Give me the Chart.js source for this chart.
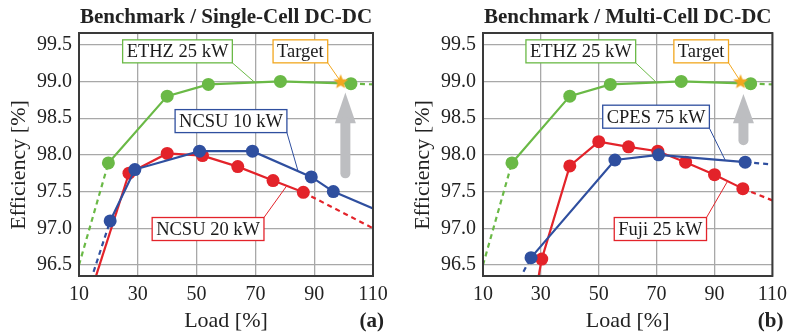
<!DOCTYPE html>
<html>
<head>
<meta charset="utf-8">
<script src="https://cdn.jsdelivr.net/npm/chart.js@4.4.1/dist/chart.umd.min.js"></script>
<style>
  html, body { margin: 0; padding: 0; background: #fff; }
  #wrap { position: relative; width: 794px; height: 335px; }
  canvas { position: absolute; top: 0; }
  #panelA { left: 0; }
  #panelB { left: 400px; }
</style>
</head>
<body>
<div id="wrap">
  <canvas id="panelA" width="400" height="335"></canvas>
  <canvas id="panelB" width="394" height="335"></canvas>
</div>
<script>
const loadTicks = [10, 30, 50, 70, 90, 110];
const effTicks = [96.5, 97.0, 97.5, 98.0, 98.5, 99.0, 99.5];

// ETHZ 25 kW (shown in both panels)
const ethzLoad = [20, 40, 54, 78.5, 102.5];
const ethzEff = [97.89, 98.8, 98.96, 99.0, 98.97];
const ethzExtLoad = [10, 110];
const ethzExtEff = [96.5, 98.96];

// NCSU 20 kW
const ncsu20Load = [27, 40, 52, 64, 76, 86.3];
const ncsu20Eff = [97.75, 98.02, 97.99, 97.84, 97.65, 97.49];
const ncsu20ExtLoad = [14.5, 110];
const ncsu20ExtEff = [96.19, 97.0];

// NCSU 10 kW
const ncsu10Load = [20.6, 29, 51, 69, 89, 96.5];
const ncsu10Eff = [97.1, 97.8, 98.05, 98.05, 97.7, 97.5];
const ncsu10ExtLoad = [14, 110];
const ncsu10ExtEff = [96.29, 97.27];

// Fuji 25 kW
const fujiLoad = [30.3, 40, 50, 60.3, 70.4, 80, 90, 99.8];
const fujiEff = [96.58, 97.85, 98.18, 98.11, 98.05, 97.9, 97.73, 97.54];
const fujiExtLoad = [29.1, 110];
const fujiExtEff = [96.32, 97.38];

// CPES 75 kW
const cpesLoad = [26.6, 55.6, 70.7, 100.6];
const cpesEff = [96.6, 97.93, 98.0, 97.9];
const cpesExtLoad = [22.5, 110];
const cpesExtEff = [96.3, 97.87];

// target operating point
const targetLoad = [99];
const targetEff = [99.0];

const GREEN = '#6ab946', RED = '#e3232a', BLUE = '#2f4f9f', ORANGE = '#f2a71f', GREY = '#bdbec1';
const SERIF = '"Liberation Serif", "Times New Roman", serif';

function pts(xs, ys) {
  return xs.map((x, i) => ({ x: x, y: ys[i] }));
}

// measured curve plus the two extrapolated ends
function seriesSets(name, xs, ys, extX, extY, color, lowDash, highDash, order) {
  const n = xs.length - 1;
  const ext = (a, b, dash) => ({
    label: name, data: [a, b], borderColor: color, borderWidth: 2.2,
    borderDash: dash ? [5, 4] : [], pointRadius: 0, order: order + 1
  });
  return [
    { label: name, data: pts(xs, ys), borderColor: color, backgroundColor: color,
      borderWidth: 2.2, pointRadius: 6.5, pointBorderWidth: 0, pointBackgroundColor: color,
      order: order },
    ext({ x: extX[0], y: extY[0] }, { x: xs[0], y: ys[0] }, lowDash),
    ext({ x: xs[n], y: ys[n] }, { x: extX[1], y: extY[1] }, highDash)
  ];
}

// filled five-point star for the target marker
const star = document.createElement('canvas');
star.width = 18; star.height = 18;
(function () {
  const c = star.getContext('2d');
  c.beginPath();
  for (let i = 0; i < 10; i++) {
    const r = i % 2 ? 3.4 : 7.8;
    const a = -Math.PI / 2 + i * Math.PI / 5;
    c.lineTo(9 + r * Math.cos(a), 9.5 + r * Math.sin(a));
  }
  c.closePath();
  c.fillStyle = ORANGE;
  c.fill();
})();

const targetSet = {
  label: 'Target', data: pts(targetLoad, targetEff), showLine: false,
  pointStyle: star, pointRadius: 8, order: 0
};

const decor = {
  id: 'decor',
  beforeDatasetsDraw(chart, args, o) {
    const xs = chart.scales.x, ys = chart.scales.y, ctx = chart.ctx;
    const a = o.arrow;
    const cx = xs.getPixelForValue(a.load);
    const tip = ys.getPixelForValue(a.tip), base = ys.getPixelForValue(a.head), end = ys.getPixelForValue(a.tail);
    ctx.save();
    ctx.fillStyle = GREY;
    ctx.beginPath();
    ctx.moveTo(cx, tip);
    ctx.lineTo(cx + 10.5, base);
    ctx.lineTo(cx - 10.5, base);
    ctx.closePath();
    ctx.fill();
    ctx.strokeStyle = GREY;
    ctx.lineWidth = 10;
    ctx.lineCap = 'round';
    ctx.beginPath();
    ctx.moveTo(cx, base - 1);
    ctx.lineTo(cx, end - 5);
    ctx.stroke();
    ctx.restore();
  },
  afterDatasetsDraw(chart, args, o) {
    const xs = chart.scales.x, ys = chart.scales.y, ctx = chart.ctx, area = chart.chartArea;
    ctx.save();
    ctx.strokeStyle = '#3a3a3a';
    ctx.lineWidth = 2;
    ctx.strokeRect(area.left, area.top, area.right - area.left, area.bottom - area.top);

    ctx.font = '18.5px ' + SERIF;
    ctx.textAlign = 'center';
    ctx.textBaseline = 'middle';
    o.labels.forEach(l => {
      const cx = xs.getPixelForValue(l.load), cy = ys.getPixelForValue(l.eff);
      const w = ctx.measureText(l.text).width + 8, h = 23;
      const left = cx - w / 2, top = cy - h / 2;
      const cornerY = l.fromTop ? top : top + h;
      ctx.strokeStyle = l.color;
      ctx.lineWidth = 1;
      ctx.beginPath();
      ctx.moveTo(left + w, cornerY);
      ctx.lineTo(xs.getPixelForValue(l.toLoad), ys.getPixelForValue(l.toEff));
      ctx.stroke();
      ctx.fillStyle = '#fff';
      ctx.fillRect(left, top, w, h);
      ctx.lineWidth = 1.3;
      ctx.strokeRect(left, top, w, h);
      ctx.fillStyle = '#1a1a1a';
      ctx.fillText(l.text, cx, cy + 1);
    });
    ctx.restore();
  },
  afterDraw(chart, args, o) {
    const ctx = chart.ctx, area = chart.chartArea;
    const mid = (area.left + area.right) / 2;
    ctx.save();
    ctx.fillStyle = '#222';
    ctx.textBaseline = 'alphabetic';
    ctx.textAlign = 'center';
    ctx.font = 'bold 21px ' + SERIF;
    ctx.fillText(o.title, mid, 23);
    ctx.font = '22px ' + SERIF;
    ctx.fillText('Load [%]', mid, 327);
    ctx.textAlign = 'right';
    ctx.font = 'bold 21px ' + SERIF;
    ctx.fillText(o.tag, area.right + 11, 327);
    ctx.translate(area.left - 60, 165);
    ctx.rotate(-Math.PI / 2);
    ctx.textAlign = 'center';
    ctx.textBaseline = 'middle';
    ctx.font = '22px ' + SERIF;
    ctx.fillText('Efficiency [%]', 0, 0);
    ctx.restore();
  }
};

function makePanel(p) {
  const tickFont = { family: SERIF, size: 20 };
  new Chart(document.getElementById(p.id), {
    type: 'line',
    data: { datasets: p.datasets },
    plugins: [decor],
    options: {
      responsive: false,
      animation: false,
      layout: { padding: { left: 0, right: p.padRight, top: 33, bottom: 0 } },
      plugins: {
        legend: { display: false },
        tooltip: { enabled: false },
        decor: { title: p.title, tag: p.tag, labels: p.labels, arrow: p.arrow }
      },
      scales: {
        x: {
          type: 'linear', min: 10, max: 110,
          afterBuildTicks: s => { s.ticks = loadTicks.map(v => ({ value: v })); },
          afterFit: s => { s.height = 59; },
          grid: { color: '#a8a8a8', lineWidth: 1.3, drawTicks: false },
          border: { display: false },
          ticks: { font: tickFont, color: '#222', padding: 7, maxRotation: 0 }
        },
        y: {
          type: 'linear', min: 96.35, max: 99.66,
          afterBuildTicks: s => { s.ticks = effTicks.map(v => ({ value: v })); },
          afterFit: s => { s.width = p.axisWidth; },
          grid: { color: '#a8a8a8', lineWidth: 1.3, drawTicks: false },
          border: { display: false },
          ticks: { font: tickFont, color: '#222', padding: 7, callback: v => v.toFixed(1) }
        }
      }
    }
  });
}

makePanel({
  id: 'panelA', title: 'Benchmark / Single-Cell DC-DC', tag: '(a)', axisWidth: 79, padRight: 27,
  datasets: [targetSet]
    .concat(seriesSets('NCSU 10 kW', ncsu10Load, ncsu10Eff, ncsu10ExtLoad, ncsu10ExtEff, BLUE, true, false, 1))
    .concat(seriesSets('NCSU 20 kW', ncsu20Load, ncsu20Eff, ncsu20ExtLoad, ncsu20ExtEff, RED, false, true, 3))
    .concat(seriesSets('ETHZ 25 kW', ethzLoad, ethzEff, ethzExtLoad, ethzExtEff, GREEN, true, true, 5)),
  labels: [
    { text: 'ETHZ 25 kW', color: GREEN, load: 43.5, eff: 99.41, toLoad: 70, toEff: 98.98 },
    { text: 'Target', color: ORANGE, load: 85.3, eff: 99.41, toLoad: 99, toEff: 99.0 },
    { text: 'NCSU 10 kW', color: BLUE, load: 61.7, eff: 98.46, toLoad: 84.5, toEff: 97.78 },
    { text: 'NCSU 20 kW', color: RED, load: 53.9, eff: 96.99, toLoad: 80.7, toEff: 97.58, fromTop: true }
  ],
  arrow: { load: 100.6, tip: 98.85, head: 98.43, tail: 97.68 }
});

makePanel({
  id: 'panelB', title: 'Benchmark / Multi-Cell DC-DC', tag: '(b)', axisWidth: 83, padRight: 16,
  datasets: [targetSet]
    .concat(seriesSets('CPES 75 kW', cpesLoad, cpesEff, cpesExtLoad, cpesExtEff, BLUE, true, true, 1))
    .concat(seriesSets('Fuji 25 kW', fujiLoad, fujiEff, fujiExtLoad, fujiExtEff, RED, false, true, 3))
    .concat(seriesSets('ETHZ 25 kW', ethzLoad, ethzEff, ethzExtLoad, ethzExtEff, GREEN, true, true, 5)),
  labels: [
    { text: 'ETHZ 25 kW', color: GREEN, load: 43.8, eff: 99.41, toLoad: 70.1, toEff: 98.98 },
    { text: 'Target', color: ORANGE, load: 85.4, eff: 99.41, toLoad: 99, toEff: 99.0 },
    { text: 'CPES 75 kW', color: BLUE, load: 69.8, eff: 98.52, toLoad: 93.8, toEff: 97.92 },
    { text: 'Fuji 25 kW', color: RED, load: 71.3, eff: 96.99, toLoad: 94.5, toEff: 97.64, fromTop: true }
  ],
  arrow: { load: 100, tip: 98.83, head: 98.43, tail: 98.13 }
});
</script>
</body>
</html>
